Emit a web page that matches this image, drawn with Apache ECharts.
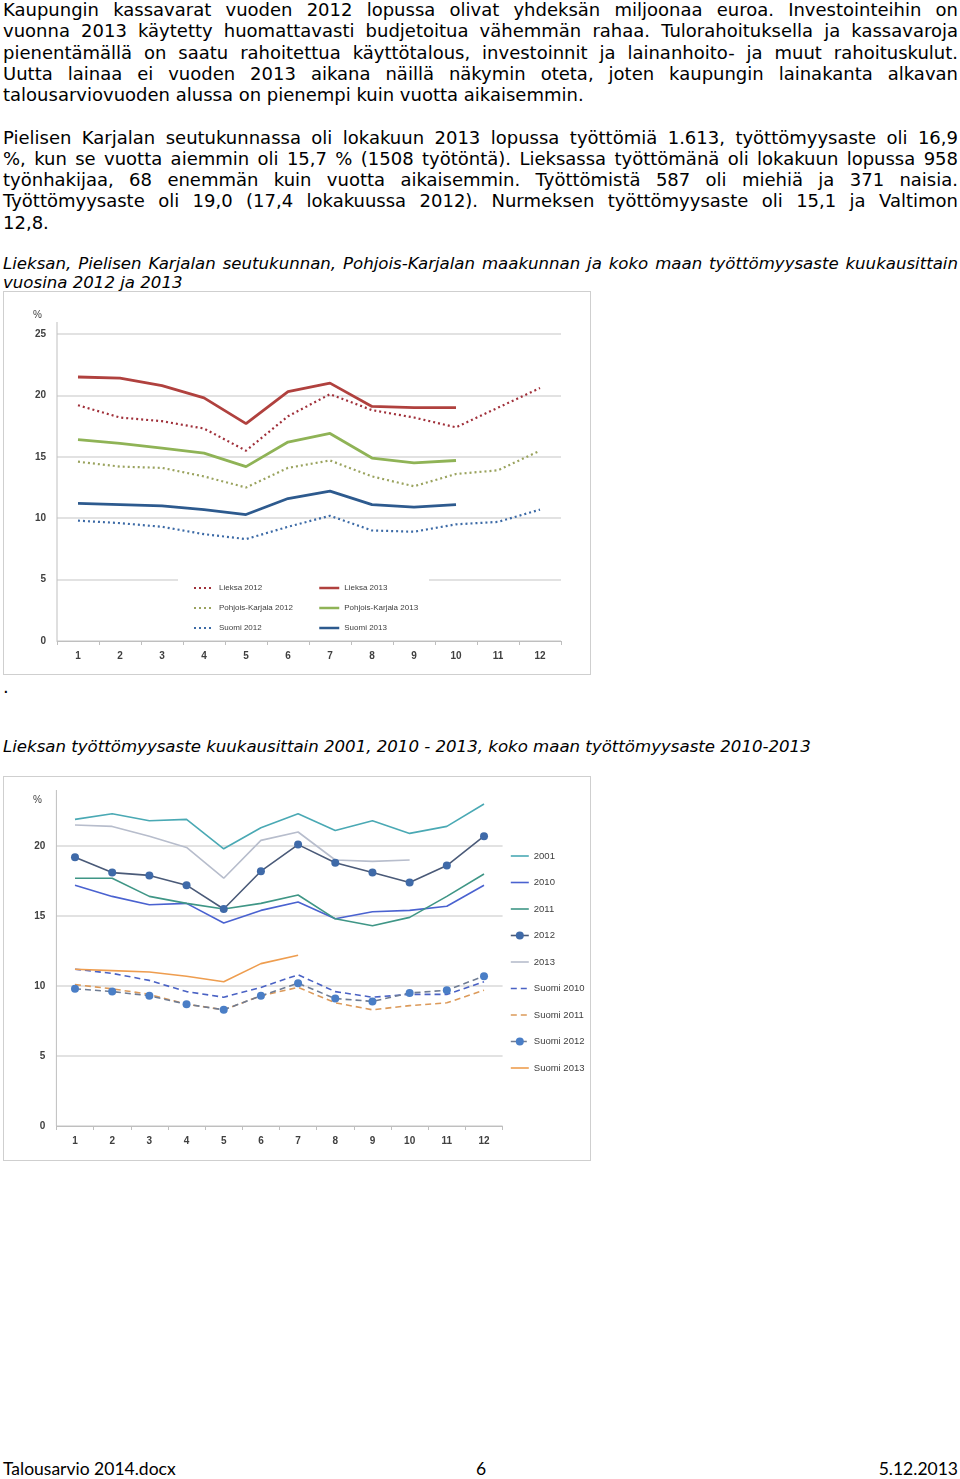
<!DOCTYPE html>
<html><head><meta charset="utf-8">
<script src="https://cdn.jsdelivr.net/npm/echarts@6/dist/echarts.min.js"></script>
<style>
html,body{margin:0;padding:0;background:#fff;}
body{width:960px;height:1479px;position:relative;overflow:hidden;font-family:"DejaVu Sans",Verdana,sans-serif;color:#000;}
.p{position:absolute;left:3px;width:955px;font-size:18px;line-height:21.3px;}
.p div{text-align:justify;text-align-last:justify;}
.p div.last{text-align-last:left;}
.cap{position:absolute;left:3px;width:955px;font-size:16.6px;line-height:19px;font-style:italic;}
.cap div{text-align:justify;text-align-last:justify;}
.cap div.last{text-align-last:left;}
.chart{position:absolute;left:3px;width:588px;box-sizing:border-box;border:1px solid #cfcfcf;}
.foot{position:absolute;top:1458px;font-family:Lato,"Open Sans",sans-serif;font-size:17.5px;line-height:22px;}
</style>
</head><body>
<div class="p" style="top:-1px">
<div>Kaupungin kassavarat vuoden 2012 lopussa olivat yhdeksän miljoonaa euroa. Investointeihin on</div>
<div>vuonna 2013 käytetty huomattavasti budjetoitua vähemmän rahaa. Tulorahoituksella ja kassavaroja</div>
<div>pienentämällä on saatu rahoitettua käyttötalous, investoinnit ja lainanhoito- ja muut rahoituskulut.</div>
<div>Uutta lainaa ei vuoden 2013 aikana näillä näkymin oteta, joten kaupungin lainakanta alkavan</div>
<div class="last">talousarviovuoden alussa on pienempi kuin vuotta aikaisemmin.</div>
</div>
<div class="p" style="top:126.5px">
<div>Pielisen Karjalan seutukunnassa oli lokakuun 2013 lopussa työttömiä 1.613, työttömyysaste oli 16,9</div>
<div>%, kun se vuotta aiemmin oli 15,7 % (1508 työtöntä). Lieksassa työttömänä oli lokakuun lopussa 958</div>
<div>työnhakijaa, 68 enemmän kuin vuotta aikaisemmin. Työttömistä 587 oli miehiä ja 371 naisia.</div>
<div>Työttömyysaste oli 19,0 (17,4 lokakuussa 2012). Nurmeksen työttömyysaste oli 15,1 ja Valtimon</div>
<div class="last">12,8.</div>
</div>
<div class="cap" style="top:254px">
<div>Lieksan, Pielisen Karjalan seutukunnan, Pohjois-Karjalan maakunnan ja koko maan työttömyysaste kuukausittain</div>
<div class="last">vuosina 2012 ja 2013</div>
</div>
<div id="c1" class="chart" style="top:291px;height:384px"></div>
<div class="p" style="top:676px"><div class="last">.</div></div>
<div class="cap" style="top:737px"><div class="last">Lieksan työttömyysaste kuukausittain 2001, 2010 - 2013, koko maan työttömyysaste 2010-2013</div></div>
<div id="c2" class="chart" style="top:776px;height:385px"></div>
<div class="foot" style="left:3px">Talousarvio 2014.docx</div>
<div class="foot" style="left:476px">6</div>
<div class="foot" style="right:2px">5.12.2013</div>
<script>
// ---- shared categories ----
const months = ['1','2','3','4','5','6','7','8','9','10','11','12'];
const yTicks1 = [0, 5, 10, 15, 20, 25];
const yTicks2 = [0, 5, 10, 15, 20];

// ---- chart 1: Lieksa, Pohjois-Karjala, Suomi 2012 & 2013 ----
const lieksa2012 = [19.2, 18.2, 17.9, 17.3, 15.5, 18.3, 20.1, 18.8, 18.2, 17.4, 19.0, 20.6];
const lieksa2013 = [21.5, 21.4, 20.8, 19.8, 17.7, 20.3, 21.0, 19.1, 19.0, 19.0];
const pk2012 = [14.6, 14.2, 14.1, 13.4, 12.5, 14.1, 14.7, 13.4, 12.6, 13.6, 13.9, 15.5];
const pk2013 = [16.4, 16.1, 15.7, 15.3, 14.2, 16.2, 16.9, 14.9, 14.5, 14.7];
const suomi2012 = [9.8, 9.6, 9.3, 8.7, 8.3, 9.3, 10.2, 9.0, 8.9, 9.5, 9.7, 10.7];
const suomi2013 = [11.2, 11.1, 11.0, 10.7, 10.3, 11.6, 12.2, 11.1, 10.9, 11.1];

// ---- chart 2: Lieksa 2001, 2010-2013, Suomi 2010-2013 ----
const l2001 = [21.9, 22.3, 21.8, 21.9, 19.8, 21.3, 22.3, 21.1, 21.8, 20.9, 21.4, 23.0];
const l2010 = [17.2, 16.4, 15.8, 15.9, 14.5, 15.4, 16.0, 14.8, 15.3, 15.4, 15.7, 17.2];
const l2011 = [17.7, 17.7, 16.4, 15.9, 15.5, 15.9, 16.5, 14.8, 14.3, 14.9, 16.4, 18.0];
const l2012 = [19.2, 18.1, 17.9, 17.2, 15.5, 18.2, 20.1, 18.8, 18.1, 17.4, 18.6, 20.7];
const l2013 = [21.5, 21.4, 20.7, 19.9, 17.7, 20.4, 21.0, 19.0, 18.9, 19.0];
const s2010 = [11.2, 10.9, 10.4, 9.6, 9.2, 9.9, 10.8, 9.6, 9.2, 9.4, 9.4, 10.3];
const s2011 = [10.1, 9.8, 9.4, 8.7, 8.3, 9.3, 9.9, 8.8, 8.3, 8.6, 8.8, 9.7];
const s2012 = [9.8, 9.6, 9.3, 8.7, 8.3, 9.3, 10.2, 9.1, 8.9, 9.5, 9.7, 10.7];
const s2013 = [11.2, 11.1, 11.0, 10.7, 10.3, 11.6, 12.2];

const AX_FONT = '"Liberation Sans", Arial, sans-serif';
const axisLbl = {color:'#404040', fontSize:10, fontWeight:'bold', fontFamily:AX_FONT};

function xAxisCfg(){
  return {type:'category', data:months, boundaryGap:true,
    axisLine:{lineStyle:{color:'#bfbfbf', width:1}},
    axisTick:{show:true, length:4, lineStyle:{color:'#bfbfbf'}},
    axisLabel:Object.assign({margin:10}, axisLbl),
    splitLine:{show:false}};
}
function yAxisCfg(ticks){
  return {type:'value', min:ticks[0], max:ticks[ticks.length-1], interval:ticks[1]-ticks[0],
    axisLine:{show:false}, axisTick:{show:false},
    axisLabel:Object.assign({margin:11}, axisLbl),
    splitLine:{lineStyle:{color:'#d9d9d9', width:1.5}}};
}
function ln(name, data, color, width, type, extra){
  return Object.assign({name, type:'line', data, symbol:'none', clip:false,
    lineStyle:{color, width, type:type||'solid'}, itemStyle:{color}, emphasis:{disabled:true}}, extra||{});
}
// legend entry: hide the legend marker for series that have no symbols
function leg(name, marker){
  return marker ? {name} : {name, itemStyle:{opacity:0}};
}

// chart 1
const c1 = echarts.init(document.getElementById('c1'), null, {renderer:'canvas'});
const legTxt1 = {fontSize:8, color:'#404040', fontFamily:AX_FONT};
c1.setOption({
  animation:false,
  grid:{left:53, top:42, width:504, height:307},
  xAxis:xAxisCfg(),
  yAxis:yAxisCfg(yTicks1),
  legend:[
    {orient:'vertical', left:189, top:292, itemWidth:20, itemHeight:10, itemGap:12, padding:0,
     lineStyle:{width:2},
     data:[leg('Lieksa 2012'),leg('Pohjois-Karjala 2012'),leg('Suomi 2012')], textStyle:legTxt1, selectedMode:false},
    {orient:'vertical', left:314, top:292, itemWidth:20, itemHeight:10, itemGap:12, padding:0,
     lineStyle:{width:2.5},
     data:[leg('Lieksa 2013'),leg('Pohjois-Karjala 2013'),leg('Suomi 2013')], textStyle:legTxt1, selectedMode:false}
  ],
  graphic:[
    {type:'rect', shape:{x:174, y:281, width:251, height:62}, style:{fill:'#fff'}, z:1, silent:true},
    {type:'line', shape:{x1:53, y1:30, x2:53, y2:349}, style:{stroke:'#bfbfbf', lineWidth:1}, z:2, silent:true},
    {type:'text', left:29, top:18, style:{text:'%', fontSize:10, fill:'#404040', fontFamily:AX_FONT}, silent:true}
  ],
  series:[
    ln('Lieksa 2012', lieksa2012, '#a0303a', 2.2, [2,3]),
    ln('Pohjois-Karjala 2012', pk2012, '#9aa35e', 2.2, [2,3]),
    ln('Suomi 2012', suomi2012, '#3c6aa6', 2.2, [2,3]),
    ln('Lieksa 2013', lieksa2013, '#b0413e', 2.8),
    ln('Pohjois-Karjala 2013', pk2013, '#8fb356', 2.8),
    ln('Suomi 2013', suomi2013, '#2d5a8e', 2.8)
  ]
});

// chart 2
const c2 = echarts.init(document.getElementById('c2'), null, {renderer:'canvas'});
c2.setOption({
  animation:false,
  grid:{left:52.4, top:69, width:446.2, height:280},
  xAxis:xAxisCfg(),
  yAxis:yAxisCfg(yTicks2),
  legend:{orient:'vertical', left:506, top:74, itemWidth:18, itemHeight:10, itemGap:16.5, padding:0,
    lineStyle:{width:1.6},
    data:[leg('2001'),leg('2010'),leg('2011'),leg('2012',true),leg('2013'),
          leg('Suomi 2010'),leg('Suomi 2011'),leg('Suomi 2012',true),leg('Suomi 2013')],
    textStyle:{fontSize:9.5, color:'#404040', fontFamily:AX_FONT}, selectedMode:false},
  graphic:[
    {type:'line', shape:{x1:52.4, y1:13, x2:52.4, y2:349}, style:{stroke:'#bfbfbf', lineWidth:1}, z:2, silent:true},
    {type:'text', left:29, top:18, style:{text:'%', fontSize:10, fill:'#404040', fontFamily:AX_FONT}, silent:true}
  ],
  series:[
    ln('2001', l2001, '#4aa9b4', 1.6),
    ln('2010', l2010, '#4a62d0', 1.6),
    ln('2011', l2011, '#3f9686', 1.6),
    ln('2012', l2012, '#3f6aa8', 1.6, 'solid', {symbol:'circle', symbolSize:8, lineStyle:{color:'#4a5a78', width:1.6}}),
    ln('2013', l2013, '#b7bdcc', 1.6),
    ln('Suomi 2010', s2010, '#4a62c4', 1.6, [6,4]),
    ln('Suomi 2011', s2011, '#dc9a5a', 1.6, [6,4]),
    ln('Suomi 2012', s2012, '#4a7ec6', 1.6, [6,4], {symbol:'circle', symbolSize:8, lineStyle:{color:'#6f7c93', width:1.6, type:[6,4]}}),
    ln('Suomi 2013', s2013, '#ee9d4f', 1.6)
  ]
});
</script>
</body></html>
